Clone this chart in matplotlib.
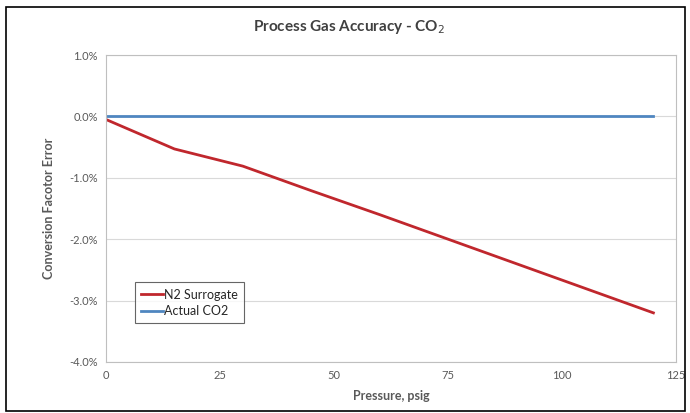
import matplotlib
matplotlib.use('Agg')
import matplotlib.pyplot as plt
from matplotlib.patches import Rectangle
from matplotlib.ticker import FuncFormatter

# data (error in %)
pressure = [0, 15, 30, 45, 60, 75, 90, 105, 120]
n2_surrogate = [-0.05, -0.53, -0.81, -1.21, -1.60, -2.00, -2.40, -2.80, -3.20]
actual_co2 = [0, 0, 0, 0, 0, 0, 0, 0, 0]

x_ticks = [0, 25, 50, 75, 100, 125]
y_ticks = [-4, -3, -2, -1, 0, 1]

plt.rcParams['font.family'] = ['Lato', 'DejaVu Sans']

fig = plt.figure(figsize=(6.9, 4.13), dpi=100)
ax = fig.add_axes([0.1536, 0.1235, 0.8264, 0.7433])

ax.plot(pressure, n2_surrogate, color='#c0272d', lw=2, label='N2 Surrogate')
ax.plot(pressure, actual_co2, color='#4f86c0', lw=2, label='Actual CO2')

ax.set_xlim(0, 125)
ax.set_ylim(-4, 1)
ax.set_xticks(x_ticks)
ax.set_yticks(y_ticks)
ax.yaxis.set_major_formatter(FuncFormatter(lambda v, p: f'{v:.1f}%'))
ax.tick_params(length=0, labelsize=8, colors='#595959', pad=6)
ax.grid(axis='y', color='#d9d9d9', lw=0.8)
ax.set_axisbelow(True)
for s in ax.spines.values():
    s.set_color('#bfbfbf')
    s.set_linewidth(0.8)

# title sits centred on the whole chart, not on the plot area
fig.text(0.505, 0.935, 'Process Gas Accuracy - CO$_2$', fontsize=11, fontweight='bold',
         color='#404040', ha='center', va='center')
ax.set_xlabel('Pressure, psig', fontsize=9, fontweight='bold', color='#595959', labelpad=6)
ax.set_ylabel('Conversion Facotor Error', fontsize=9, fontweight='bold', color='#595959', labelpad=10)

leg = ax.legend(loc='upper left', bbox_to_anchor=(0.04, 0.28), fontsize=9,
                frameon=True, fancybox=False, handlelength=1.7, handletextpad=0.1,
                borderpad=0.5, labelspacing=0.35, labelcolor='#262626')
leg.get_frame().set_edgecolor('#404040')
leg.get_frame().set_linewidth(0.8)

# outer border of the chart
fig.patches.append(Rectangle((0.008, 0.006), 0.985, 0.976, transform=fig.transFigure,
                             fill=False, edgecolor='black', lw=1.2))

fig.savefig('out.png', dpi=100)
